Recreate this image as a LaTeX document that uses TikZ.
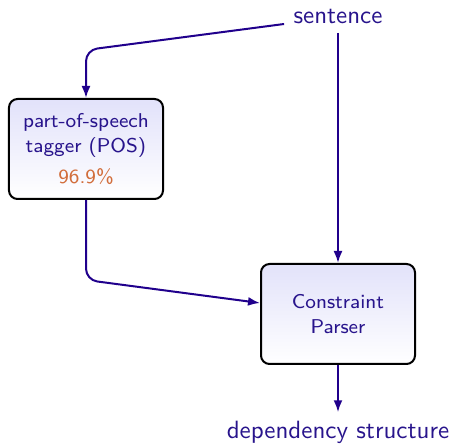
\documentclass[tikz,border=0pt]{standalone}
\usetikzlibrary{arrows.meta,calc}
\definecolor{lineblue}{RGB}{32,0,140}
\definecolor{textblue}{RGB}{40,20,140}
\definecolor{accorange}{RGB}{210,110,60}
\definecolor{boxtop}{RGB}{226,226,250}
\begin{document}
\begin{tikzpicture}[x=0.4pt,y=-0.4pt,
  proc/.style={draw=black,line width=0.8pt,rounded corners=3.4pt,
    top color=boxtop,bottom color=white,minimum width=61.6pt,minimum height=40pt,
    align=center,text=textblue,font=\sffamily\fontsize{8}{10}\selectfont,inner sep=0pt},
  lbl/.style={text=textblue,font=\sffamily\fontsize{10}{12}\selectfont,inner sep=0pt},
  conn/.style={draw=lineblue,line width=0.8pt,-{Latex[length=4.8pt,width=3.6pt]}}]
\useasboundingbox (0,0) rectangle (454,445);
\node[lbl] (sent) at (338,17) {sentence};
\node[proc] (pos) at (86,149) {part-of-speech\\tagger (POS)\\[2.5pt]\textcolor{accorange}{96.9\%}};
\node[proc] (parser) at (338,314) {Constraint\\Parser};
\node[lbl] (dep) at (338,432) {dependency structure};
\coordinate (c1) at (86,50);
\coordinate (c2) at (86,280);
\draw[conn,rounded corners=4.5pt] ($(sent.west)+(-9,7)$) -- (c1) -- (pos.north);
\draw[conn] ($(sent.south)+(0,8)$) -- (parser.north);
\draw[conn,rounded corners=4.5pt] (pos.south) -- (c2) -- ($(parser.west)+(0,-11)$);
\draw[conn] (parser.south) -- ($(dep.north)+(0,-8)$);
\end{tikzpicture}
\end{document}
